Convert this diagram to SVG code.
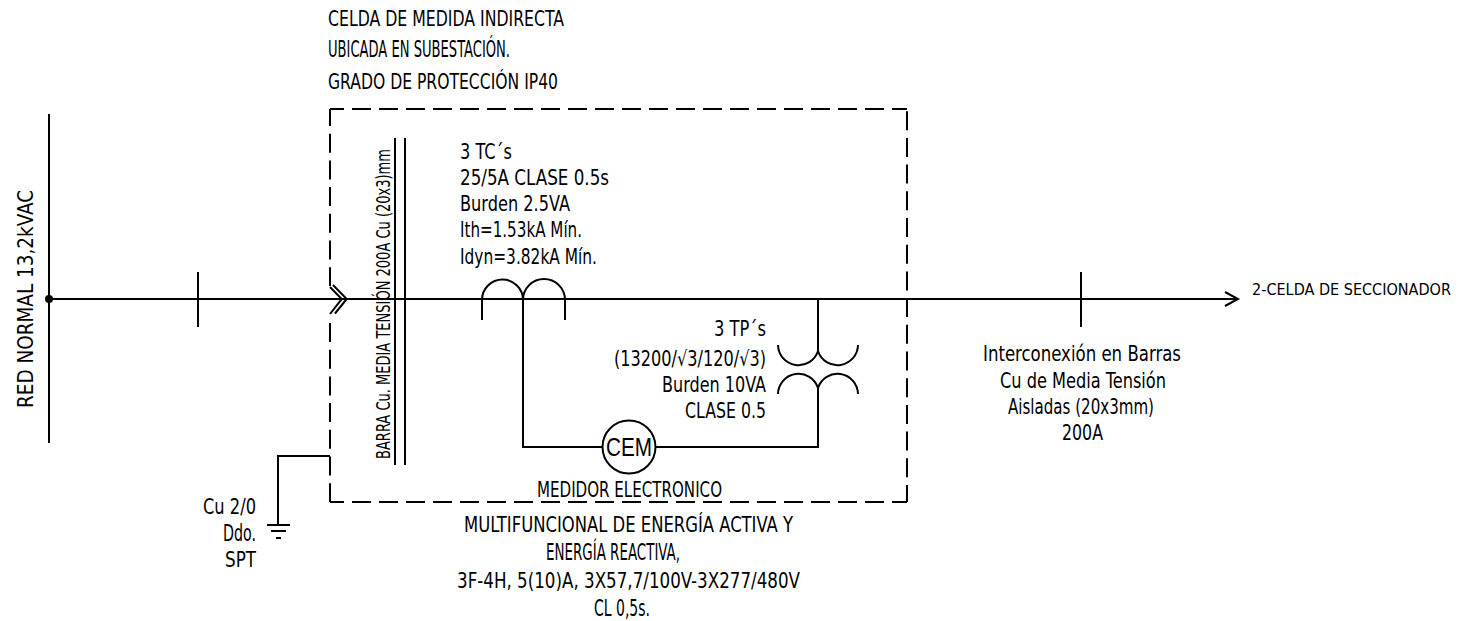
<svg xmlns="http://www.w3.org/2000/svg" width="1458" height="621" viewBox="0 0 1458 621">
<style>
text{font-family:"DejaVu Sans","Liberation Sans",sans-serif;font-stretch:condensed;font-size:20.5px;fill:#000}
.n{font-size:23px}
.b{font-size:20px}
.s{font-size:16px}
.c{font-family:"Liberation Sans",Arial,sans-serif;font-stretch:normal;font-size:25px}
.l,.d,.v{fill:none;stroke:#000;stroke-width:2}
.d{stroke-dasharray:19 8}
.v{stroke-dasharray:19 7.7}
</style>
<rect width="1458" height="621" fill="#fff"/>
<g id="connectors">
<path class="l" d="M49 299H1238M1225 292L1238 299L1225 306"/>
<path class="l" d="M523 299V447H602M656 447H818V388M818 299V352"/>
<path class="l" d="M330 456H278V525"/>
</g>
<g id="red-normal">
<path class="l" d="M49 114V443"/>
<circle cx="49" cy="299" r="4"/>
<text transform="translate(33 408) rotate(-90)" textLength="218" lengthAdjust="spacingAndGlyphs">RED NORMAL 13,2kVAC</text>
</g>
<g id="tick-left"><path class="l" d="M198 272V327"/></g>
<g id="celda">
<path class="d" stroke-dashoffset="5" d="M330 109H907"/>
<path class="v" stroke-dashoffset="2" d="M330 109V286"/>
<path class="v" d="M330 323V502"/>
<path class="d" stroke-dashoffset="5" d="M330 502H907"/>
<path class="v" stroke-dashoffset="2" d="M907 502V109"/>
<text x="328" y="26" textLength="236" lengthAdjust="spacingAndGlyphs">CELDA DE MEDIDA INDIRECTA</text>
<text class="n" x="328" y="57" textLength="182" lengthAdjust="spacingAndGlyphs">UBICADA EN SUBESTACIÓN.</text>
<text x="328" y="89" textLength="230" lengthAdjust="spacingAndGlyphs">GRADO DE PROTECCIÓN IP40</text>
</g>
<g id="entrada"><path class="l" d="M333 285L346.700 299L335 313.500M330 287L341.700 299L330 314" stroke-width="1.500"/></g>
<g id="barra">
<path class="l" d="M395 138V465M405 138V465"/>
<text class="b" transform="translate(390 459) rotate(-90)" textLength="310" lengthAdjust="spacingAndGlyphs">BARRA Cu. MEDIA TENSIÓN 200A Cu (20x3)mm</text>
</g>
<g id="tc">
<path class="l" d="M482 320V300A20.500 20.500 0 0 1 523 300A20.500 20.500 0 0 1 565 300V320"/>
<text x="460" y="159" textLength="52" lengthAdjust="spacingAndGlyphs">3 TC´s</text>
<text x="460" y="185" textLength="149" lengthAdjust="spacingAndGlyphs">25/5A CLASE 0.5s</text>
<text x="460" y="211" textLength="110" lengthAdjust="spacingAndGlyphs">Burden 2.5VA</text>
<text x="460" y="237" textLength="122" lengthAdjust="spacingAndGlyphs">Ith=1.53kA Mín.</text>
<text x="460" y="264" textLength="137" lengthAdjust="spacingAndGlyphs">Idyn=3.82kA Mín.</text>
</g>
<g id="tp">
<path class="l" d="M778 345A20.500 20.500 0 0 0 818 351M858 345A20.500 20.500 0 0 1 818 351"/>
<path class="l" d="M778 394A20.500 20.500 0 0 1 818 388M858 394A20.500 20.500 0 0 0 818 388"/>
<text x="714" y="336" textLength="52" lengthAdjust="spacingAndGlyphs">3 TP´s</text>
<text x="614" y="366" textLength="152" lengthAdjust="spacingAndGlyphs">(13200/√3/120/√3)</text>
<text x="662" y="392" textLength="104" lengthAdjust="spacingAndGlyphs">Burden 10VA</text>
<text x="685" y="418" textLength="81" lengthAdjust="spacingAndGlyphs">CLASE 0.5</text>
</g>
<g id="cem">
<circle class="l" cx="629" cy="447" r="26.500"/>
<text class="c" x="606" y="456" textLength="46" lengthAdjust="spacingAndGlyphs">CEM</text>
</g>
<g id="medidor">
<text x="537" y="497" textLength="185" lengthAdjust="spacingAndGlyphs">MEDIDOR ELECTRONICO</text>
<text x="464" y="532" textLength="329" lengthAdjust="spacingAndGlyphs">MULTIFUNCIONAL DE ENERGÍA ACTIVA Y</text>
<text class="n" x="546" y="560" textLength="134" lengthAdjust="spacingAndGlyphs">ENERGÍA REACTIVA,</text>
<text x="457" y="588" textLength="343" lengthAdjust="spacingAndGlyphs">3F-4H, 5(10)A, 3X57,7/100V-3X277/480V</text>
<text class="n" x="594" y="616" textLength="56" lengthAdjust="spacingAndGlyphs">CL 0,5s.</text>
</g>
<g id="tierra">
<path class="l" d="M267 525H290M271 531H286M276 538H281"/>
<text x="203" y="514" textLength="53" lengthAdjust="spacingAndGlyphs">Cu 2/0</text>
<text class="n" x="223" y="541" textLength="33" lengthAdjust="spacingAndGlyphs">Ddo.</text>
<text x="225" y="567" textLength="31" lengthAdjust="spacingAndGlyphs">SPT</text>
</g>
<g id="interconexion">
<path class="l" d="M1081 272V327"/>
<text x="983" y="361" textLength="198" lengthAdjust="spacingAndGlyphs">Interconexión en Barras</text>
<text x="1000" y="388" textLength="166" lengthAdjust="spacingAndGlyphs">Cu de Media Tensión</text>
<text x="1008" y="414" textLength="146" lengthAdjust="spacingAndGlyphs">Aisladas (20x3mm)</text>
<text x="1062" y="440" textLength="41" lengthAdjust="spacingAndGlyphs">200A</text>
</g>
<g id="destino">
<text class="s" x="1252" y="295" textLength="199" lengthAdjust="spacingAndGlyphs">2-CELDA DE SECCIONADOR</text>
</g>
</svg>
